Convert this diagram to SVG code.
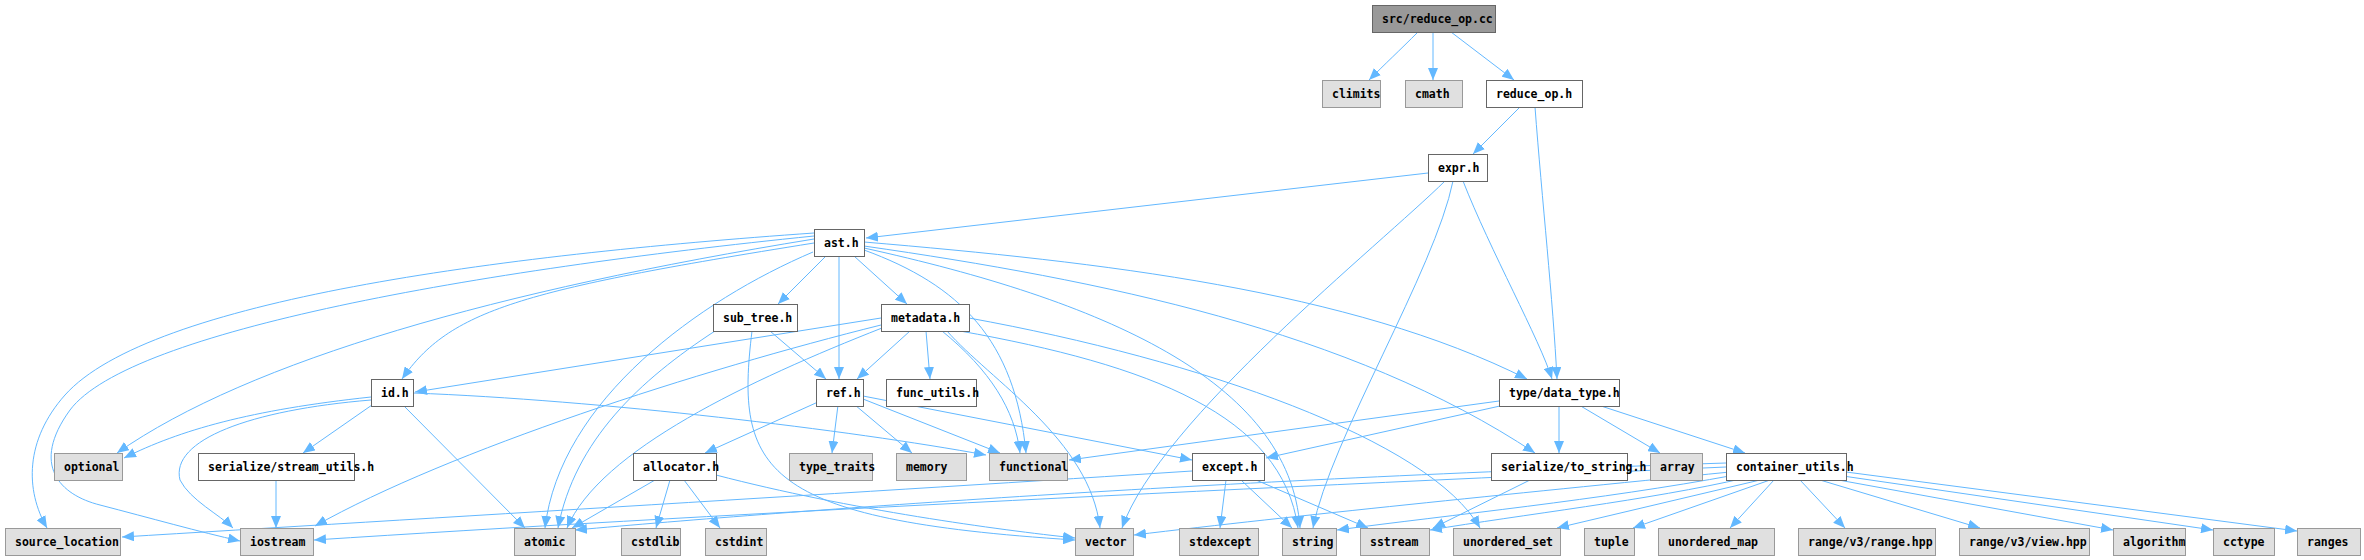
<svg xmlns="http://www.w3.org/2000/svg" width="2364" height="560" viewBox="0 0 2364 560">
<style>
.n rect{fill:#ffffff;stroke:#666666;stroke-width:1}
.s rect{fill:#e0e0e0;stroke:#999999;stroke-width:1}
.r rect{fill:#999999;stroke:#666666;stroke-width:1}
text{font-family:"DejaVu Sans Mono","Liberation Mono",monospace;font-size:11.5px;font-weight:bold;fill:#000000}
#edges path{fill:none;stroke:#63b8ff;stroke-width:1;marker-end:url(#a)}
</style>
<defs>
<marker id="a" markerUnits="userSpaceOnUse" markerWidth="12" markerHeight="10" refX="12" refY="5" orient="auto">
<path d="M0,0 L12,5 L0,10 z" fill="#63b8ff"/>
</marker>
</defs>
<rect width="2364" height="560" fill="#ffffff"/>
<g id="edges">
<path d="M1418,32 C1400,50 1385,64 1369,80"/>
<path d="M1433,32 L1433,80"/>
<path d="M1451,32 L1514,80"/>
<path d="M1520,107 L1473,154"/>
<path d="M1535,107 C1542,200 1553,300 1557,379"/>
<path d="M1428,173 L866,238"/>
<path d="M1445,181 C1380,245 1160,420 1122,528"/>
<path d="M1453,181 C1435,270 1330,440 1313,528"/>
<path d="M1463,181 C1490,250 1540,340 1552,379"/>
<path d="M814,233 C500,255 150,300 65,395 C25,440 25,490 47,528"/>
<path d="M814,236 C480,270 130,330 70,410 C30,465 60,495 100,505 C150,518 200,532 240,541"/>
<path d="M814,239 C500,290 250,360 117,453"/>
<path d="M814,243 C520,290 450,310 402,379"/>
<path d="M826,256 L778,304"/>
<path d="M854,256 L907,304"/>
<path d="M839,256 L839,379"/>
<path d="M813,252 C700,300 560,400 545,528"/>
<path d="M864,250 C960,285 1015,340 1026,453"/>
<path d="M864,248 C1100,300 1290,380 1300,528"/>
<path d="M864,242 C1100,262 1350,290 1527,379"/>
<path d="M864,246 C1100,280 1350,330 1535,453"/>
<path d="M770,331 L826,379"/>
<path d="M715,331 C640,380 575,440 558,528"/>
<path d="M752,331 C735,470 760,520 1075,540"/>
<path d="M881,318 L415,392"/>
<path d="M910,331 L857,379"/>
<path d="M926,331 L930,379"/>
<path d="M942,331 C990,370 1015,410 1020,453"/>
<path d="M881,325 C700,370 450,450 315,526"/>
<path d="M882,328 C750,380 600,450 567,528"/>
<path d="M947,331 C990,380 1090,440 1100,528"/>
<path d="M960,331 C1150,365 1282,415 1298,528"/>
<path d="M969,318 C1200,360 1430,440 1480,528"/>
<path d="M371,397 C250,410 180,430 124,458"/>
<path d="M372,405 L303,453"/>
<path d="M371,400 C250,410 170,440 180,480 C190,500 220,515 233,528"/>
<path d="M403,405 L525,528"/>
<path d="M413,393 C600,400 850,430 986,455"/>
<path d="M818,402 L705,453"/>
<path d="M838,405 L832,453"/>
<path d="M855,405 L912,453"/>
<path d="M863,399 L1000,453"/>
<path d="M863,396 L1192,460"/>
<path d="M655,480 L572,528"/>
<path d="M670,480 L656,528"/>
<path d="M684,480 L720,528"/>
<path d="M716,475 C850,510 1000,530 1075,538"/>
<path d="M1226,480 L1220,528"/>
<path d="M1241,480 L1292,528"/>
<path d="M1256,480 L1368,528"/>
<path d="M1192,471 C900,490 400,520 122,537"/>
<path d="M1499,401 L1069,460"/>
<path d="M1500,406 L1266,458"/>
<path d="M1559,405 L1559,453"/>
<path d="M1579,405 L1660,453"/>
<path d="M1598,405 L1745,453"/>
<path d="M1530,480 L1433,528"/>
<path d="M276,480 L276,528"/>
<path d="M1726,467 C1200,490 700,515 314,540"/>
<path d="M1726,463 C1200,480 800,510 575,530"/>
<path d="M1730,472 C1500,495 1300,515 1134,535"/>
<path d="M1735,475 C1600,500 1450,515 1337,530"/>
<path d="M1745,478 C1650,500 1520,515 1430,530"/>
<path d="M1760,480 L1557,528"/>
<path d="M1770,480 L1633,528"/>
<path d="M1774,480 L1730,528"/>
<path d="M1800,480 L1845,528"/>
<path d="M1820,480 L1980,528"/>
<path d="M1833,479 L2113,530"/>
<path d="M1843,476 L2213,530"/>
<path d="M1846,472 L2297,531"/>
</g>
<g id="n_root" class="r"><rect x="1372.5" y="5.5" width="123" height="27"/><text x="1382" y="23">src/reduce_op.cc</text></g>
<g id="n_climits" class="s"><rect x="1322.5" y="80.5" width="58" height="27"/><text x="1332" y="98">climits</text></g>
<g id="n_cmath" class="s"><rect x="1405.5" y="80.5" width="57" height="27"/><text x="1415" y="98">cmath</text></g>
<g id="n_reduce_op" class="n"><rect x="1486.5" y="80.5" width="96" height="27"/><text x="1496" y="98">reduce_op.h</text></g>
<g id="n_expr" class="n"><rect x="1428.5" y="154.5" width="59" height="27"/><text x="1438" y="172">expr.h</text></g>
<g id="n_ast" class="n"><rect x="814.5" y="229.5" width="50" height="27"/><text x="824" y="247">ast.h</text></g>
<g id="n_sub_tree" class="n"><rect x="713.5" y="304.5" width="84" height="27"/><text x="723" y="322">sub_tree.h</text></g>
<g id="n_metadata" class="n"><rect x="881.5" y="304.5" width="88" height="27"/><text x="891" y="322">metadata.h</text></g>
<g id="n_id" class="n"><rect x="371.5" y="379.5" width="42" height="27"/><text x="381" y="397">id.h</text></g>
<g id="n_ref" class="n"><rect x="816.5" y="379.5" width="47" height="27"/><text x="826" y="397">ref.h</text></g>
<g id="n_func_utils" class="n"><rect x="886.5" y="379.5" width="90" height="27"/><text x="896" y="397">func_utils.h</text></g>
<g id="n_data_type" class="n"><rect x="1499.5" y="379.5" width="120" height="27"/><text x="1509" y="397">type/data_type.h</text></g>
<g id="n_optional" class="s"><rect x="54.5" y="453.5" width="68" height="27"/><text x="64" y="471">optional</text></g>
<g id="n_stream_utils" class="n"><rect x="198.5" y="453.5" width="156" height="27"/><text x="208" y="471">serialize/stream_utils.h</text></g>
<g id="n_allocator" class="n"><rect x="633.5" y="453.5" width="83" height="27"/><text x="643" y="471">allocator.h</text></g>
<g id="n_type_traits" class="s"><rect x="789.5" y="453.5" width="83" height="27"/><text x="799" y="471">type_traits</text></g>
<g id="n_memory" class="s"><rect x="896.5" y="453.5" width="70" height="27"/><text x="906" y="471">memory</text></g>
<g id="n_functional" class="s"><rect x="989.5" y="453.5" width="78" height="27"/><text x="999" y="471">functional</text></g>
<g id="n_except" class="n"><rect x="1192.5" y="453.5" width="72" height="27"/><text x="1202" y="471">except.h</text></g>
<g id="n_to_string" class="n"><rect x="1491.5" y="453.5" width="136" height="27"/><text x="1501" y="471">serialize/to_string.h</text></g>
<g id="n_array" class="s"><rect x="1650.5" y="453.5" width="52" height="27"/><text x="1660" y="471">array</text></g>
<g id="n_container_utils" class="n"><rect x="1726.5" y="453.5" width="120" height="27"/><text x="1736" y="471">container_utils.h</text></g>
<g id="n_source_location" class="s"><rect x="5.5" y="528.5" width="115" height="27"/><text x="15" y="546">source_location</text></g>
<g id="n_iostream" class="s"><rect x="240.5" y="528.5" width="73" height="27"/><text x="250" y="546">iostream</text></g>
<g id="n_atomic" class="s"><rect x="514.5" y="528.5" width="61" height="27"/><text x="524" y="546">atomic</text></g>
<g id="n_cstdlib" class="s"><rect x="621.5" y="528.5" width="59" height="27"/><text x="631" y="546">cstdlib</text></g>
<g id="n_cstdint" class="s"><rect x="705.5" y="528.5" width="61" height="27"/><text x="715" y="546">cstdint</text></g>
<g id="n_vector" class="s"><rect x="1075.5" y="528.5" width="58" height="27"/><text x="1085" y="546">vector</text></g>
<g id="n_stdexcept" class="s"><rect x="1179.5" y="528.5" width="79" height="27"/><text x="1189" y="546">stdexcept</text></g>
<g id="n_string" class="s"><rect x="1282.5" y="528.5" width="54" height="27"/><text x="1292" y="546">string</text></g>
<g id="n_sstream" class="s"><rect x="1360.5" y="528.5" width="69" height="27"/><text x="1370" y="546">sstream</text></g>
<g id="n_unordered_set" class="s"><rect x="1453.5" y="528.5" width="107" height="27"/><text x="1463" y="546">unordered_set</text></g>
<g id="n_tuple" class="s"><rect x="1584.5" y="528.5" width="50" height="27"/><text x="1594" y="546">tuple</text></g>
<g id="n_unordered_map" class="s"><rect x="1658.5" y="528.5" width="116" height="27"/><text x="1668" y="546">unordered_map</text></g>
<g id="n_range_hpp" class="s"><rect x="1798.5" y="528.5" width="137" height="27"/><text x="1808" y="546">range/v3/range.hpp</text></g>
<g id="n_view_hpp" class="s"><rect x="1959.5" y="528.5" width="130" height="27"/><text x="1969" y="546">range/v3/view.hpp</text></g>
<g id="n_algorithm" class="s"><rect x="2113.5" y="528.5" width="72" height="27"/><text x="2123" y="546">algorithm</text></g>
<g id="n_cctype" class="s"><rect x="2213.5" y="528.5" width="61" height="27"/><text x="2223" y="546">cctype</text></g>
<g id="n_ranges" class="s"><rect x="2297.5" y="528.5" width="63" height="27"/><text x="2307" y="546">ranges</text></g>
</svg>
